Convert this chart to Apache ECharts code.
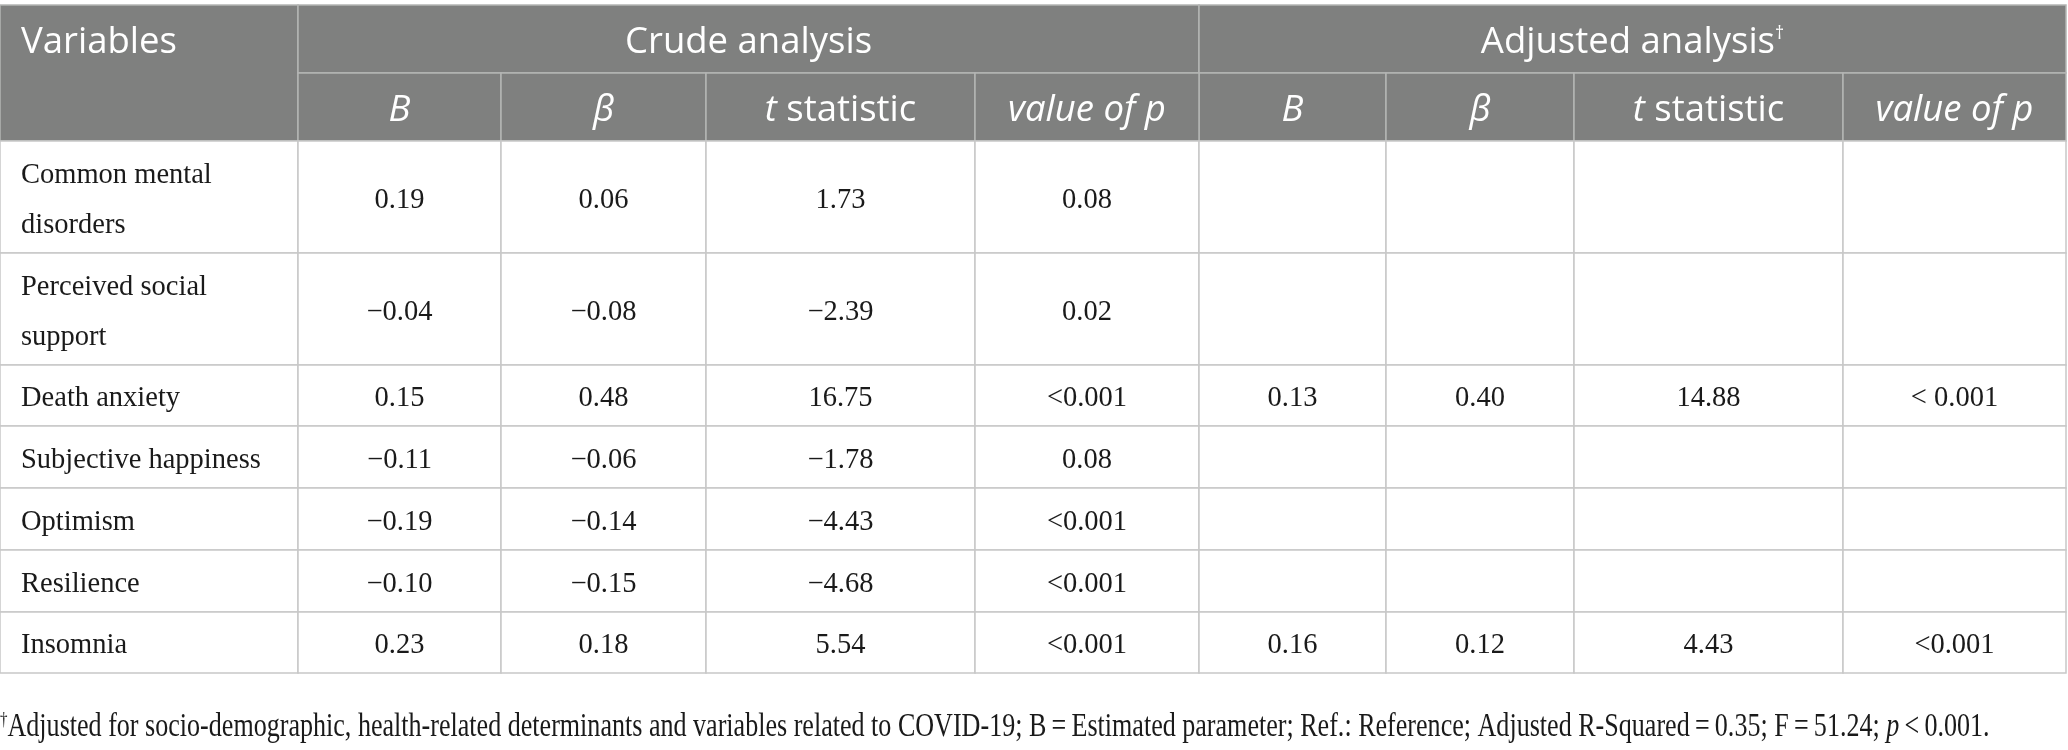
<!DOCTYPE html>
<html>
<head>
<meta charset="utf-8">
<title>Crude and adjusted analysis</title>
<script src="https://cdn.jsdelivr.net/npm/echarts@6/dist/echarts.min.js"></script>
<style>
  html, body { margin: 0; padding: 0; background: #fff; }
  #main { width: 2068px; height: 750px; }
</style>
</head>
<body>
<div id="main"></div>
<script>
// table values
const variables = ['Common mental disorders', 'Perceived social support', 'Death anxiety', 'Subjective happiness', 'Optimism', 'Resilience', 'Insomnia']
const crudeB = [0.19, -0.04, 0.15, -0.11, -0.19, -0.10, 0.23]
const crudeBeta = [0.06, -0.08, 0.48, -0.06, -0.14, -0.15, 0.18]
const crudeT = [1.73, -2.39, 16.75, -1.78, -4.43, -4.68, 5.54]
const crudeP = ['0.08', '0.02', '<0.001', '0.08', '<0.001', '<0.001', '<0.001']
const adjB = [null, null, 0.13, null, null, null, 0.16]
const adjBeta = [null, null, 0.40, null, null, null, 0.12]
const adjT = [null, null, 14.88, null, null, null, 4.43]
const adjP = [null, null, '< 0.001', null, null, null, '<0.001']
const groupHeads = ['Crude analysis', 'Adjusted analysis{sup|†}']
const subHeads = ['{i|B}', '{i|β}', '{i|t} statistic', '{i|value of p}']
const footnote = '{sup|†}Adjusted for socio-demographic, health-related determinants and variables related to COVID-19; B\u2009=\u2009Estimated parameter; Ref.: Reference; Adjusted R-Squared\u2009=\u20090.35; F\u2009=\u200951.24; {i|p}\u2009<\u20090.001.'

// layout, in axis units (axes span the canvas)
const colEdges = [0, 298, 501, 706, 975, 1199, 1386, 1574, 1843, 2066]
const rowEdges = [5, 73, 141, 253, 365, 426, 488, 550, 612, 673]

const headFont = 'Open Sans'
const bodyFont = 'Liberation Serif'
const headBg = '#7f807f'
const ink = '#1a1a1a'

function fmt (v) {
  if (v === null || v === undefined) return ''
  if (typeof v === 'string') return v
  return (v < 0 ? '\u2212' : '') + Math.abs(v).toFixed(2)
}

const cells = []
function addCell (c0, c1, r0, r1, text, kind) {
  cells.push({ c0: c0, c1: c1, r0: r0, r1: r1, text: text, kind: kind })
}
addCell(0, 1, 0, 2, 'Variables', 'corner')
addCell(1, 5, 0, 1, groupHeads[0], 'head')
addCell(5, 9, 0, 1, groupHeads[1], 'head')
subHeads.forEach(function (s, k) {
  addCell(1 + k, 2 + k, 1, 2, s, 'head')
  addCell(5 + k, 6 + k, 1, 2, s, 'head')
})
variables.forEach(function (name, i) {
  const r = 2 + i
  addCell(0, 1, r, r + 1, name, 'name')
  const vals = [crudeB[i], crudeBeta[i], crudeT[i], crudeP[i], adjB[i], adjBeta[i], adjT[i], adjP[i]]
  vals.forEach(function (v, k) {
    addCell(1 + k, 2 + k, r, r + 1, fmt(v), 'num')
  })
})

const headRich = {
  i: { fontFamily: headFont, fontSize: 36.5, fontStyle: 'italic', fill: '#fff' },
  sup: { fontFamily: headFont, fontSize: 18, verticalAlign: 'top', fill: '#fff' }
}

function renderItem (params, api) {
  const cell = cells[params.dataIndex]
  const p0 = api.coord([api.value(0), api.value(2)])
  const p1 = api.coord([api.value(1), api.value(3)])
  const isHead = cell.kind === 'head' || cell.kind === 'corner'
  const rect = {
    type: 'rect',
    shape: { x: p0[0], y: p0[1], width: p1[0] - p0[0], height: p1[1] - p0[1] },
    style: { fill: isHead ? headBg : '#fff', stroke: isHead ? '#b4b5b4' : '#c8c8c8', lineWidth: 1.5 }
  }
  let tx = (p0[0] + p1[0]) / 2
  let ty = (p0[1] + p1[1]) / 2
  let align = 'center'
  if (cell.kind === 'corner') {
    tx = p0[0] + 21
    ty = api.coord([0, (rowEdges[0] + rowEdges[1]) / 2])[1]
    align = 'left'
  } else if (cell.kind === 'name') {
    tx = p0[0] + 21
    align = 'left'
  }
  const style = isHead ? {
    text: cell.text,
    fill: '#fff',
    fontFamily: headFont,
    fontSize: 36.5,
    align: align,
    verticalAlign: 'middle',
    rich: headRich
  } : {
    text: cell.text,
    fill: ink,
    fontFamily: bodyFont,
    fontSize: 28.5,
    lineHeight: 50,
    width: 252,
    overflow: 'break',
    align: align,
    verticalAlign: 'middle'
  }
  return {
    type: 'group',
    children: [rect, { type: 'text', x: tx, y: ty + (isHead ? 4 : 3.5), style: style }]
  }
}

const chart = echarts.init(document.getElementById('main'))
const option = {
  animation: false,
  grid: { left: 0, right: 0, top: 0, bottom: 0 },
  xAxis: { type: 'value', min: 0, max: 2068, show: false },
  yAxis: { type: 'value', min: 0, max: 750, inverse: true, show: false },
  // footnote is set in a narrower cut than the table body
  graphic: [{
    type: 'text',
    x: 0,
    y: 727,
    scaleX: 0.79,
    silent: true,
    style: {
      text: footnote,
      fill: ink,
      fontFamily: bodyFont,
      fontSize: 33,
      verticalAlign: 'middle',
      rich: {
        sup: { fontFamily: bodyFont, fontSize: 19, verticalAlign: 'top', fill: ink },
        i: { fontFamily: bodyFont, fontSize: 33, fontStyle: 'italic', fill: ink }
      }
    }
  }],
  series: [{
    type: 'custom',
    silent: true,
    renderItem: renderItem,
    data: cells.map(function (c) {
      return [colEdges[c.c0], colEdges[c.c1], rowEdges[c.r0], rowEdges[c.r1]]
    })
  }]
}
chart.setOption(option)
</script>
</body>
</html>
